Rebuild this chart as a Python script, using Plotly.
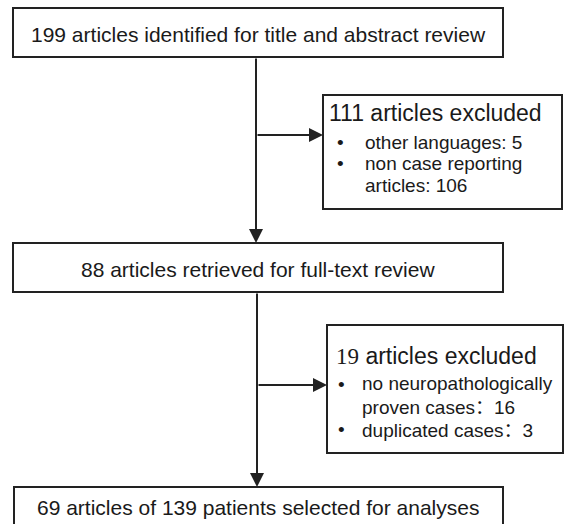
import plotly.graph_objects as go

# ---- data (counts and labels) ----
n_identified = 199
n_excluded_1 = 111
excl1_reasons = ["other languages", "non case reporting<br>articles"]
excl1_counts = [5, 106]
n_retrieved = 88
n_excluded_2 = 19
excl2_reasons = ["no neuropathologically<br>proven cases", "duplicated cases"]
excl2_counts = [16, 3]
n_selected = 69
n_patients = 139

W, H = 564, 524
FONT = "Liberation Sans, Arial, sans-serif"
INK = "#1a1a1a"
LINE = "#222222"
CJK_COLON = '<span style="font-family:Noto Sans CJK SC">：</span>'

fig = go.Figure()
fig.add_trace(go.Scatter(x=[0, W], y=[0, H], mode="markers",
                         marker=dict(opacity=0), hoverinfo="skip", showlegend=False))

# ---- layout geometry ----
boxes = {
    "b1": (13, 8, 503, 57),
    "b2": (323, 95, 562, 209),
    "b3": (13, 243, 503, 292),
    "b4": (327, 325, 563, 453),
    "b5": (14, 487, 503, 532),
}
shapes = []
for (x0, y0, x1, y1) in boxes.values():
    shapes.append(dict(type="rect", xref="x", yref="y", x0=x0, y0=y0, x1=x1, y1=y1,
                       line=dict(color=LINE, width=2), fillcolor="rgba(0,0,0,0)"))

ann = []

def arrow(x, y, ax, ay):
    ann.append(dict(x=x, y=y, ax=ax, ay=ay, xref="x", yref="y", axref="x", ayref="y",
                    text="", showarrow=True, arrowhead=2, arrowsize=1.4, arrowwidth=2,
                    arrowcolor=LINE, standoff=0, startstandoff=0))

def text(x, y, s, size, anchor="center"):
    ann.append(dict(x=x, y=y, xref="x", yref="y", text=s, showarrow=False,
                    xanchor=anchor, yanchor="middle", borderpad=0,
                    font=dict(family=FONT, size=size, color=INK)))

# main flow arrows
arrow(256, 243, 256, 57)
arrow(323, 135, 256, 135)
arrow(257, 487, 257, 292)
arrow(327, 385, 257, 385)

# box texts
text(258, 34, f"{n_identified} articles identified for title and abstract review", 21)
text(258, 269, f"{n_retrieved} articles retrieved for full-text review", 21)
text(258, 507, f"{n_selected} articles of {n_patients} patients selected for analyses", 21)

# exclusion box 1
text(328, 113, f"{n_excluded_1} articles excluded", 23, "left")
text(336, 142, "•", 19, "left")
text(336, 163, "•", 19, "left")
text(364, 142, f"{excl1_reasons[0]}: {excl1_counts[0]}", 19, "left")
r1 = excl1_reasons[1].split("<br>")
text(364, 163, r1[0], 19, "left")
text(364, 185, f"{r1[1]}: {excl1_counts[1]}", 19, "left")

# exclusion box 2
text(335, 356, f'<span style="font-family:Liberation Serif, Times New Roman, serif">{n_excluded_2}</span> articles excluded', 23, "left")
text(337, 384, "•", 19, "left")
text(337, 429, "•", 19, "left")
r2 = excl2_reasons[0].split("<br>")
text(361, 383, r2[0], 19, "left")
text(361, 405, f"{r2[1]}{CJK_COLON}{excl2_counts[0]}", 19, "left")
text(361, 428, f"{excl2_reasons[1]}{CJK_COLON}{excl2_counts[1]}", 19, "left")

fig.update_layout(
    width=W, height=H, margin=dict(l=0, r=0, t=0, b=0),
    paper_bgcolor="white", plot_bgcolor="white",
    xaxis=dict(range=[0, W], visible=False, fixedrange=True),
    yaxis=dict(range=[H, 0], visible=False, fixedrange=True),
    shapes=shapes, annotations=ann, showlegend=False,
)
fig.write_html("out.html", config={"displayModeBar": False},
               post_script="document.body.style.margin='0';document.body.style.overflow='hidden';")
